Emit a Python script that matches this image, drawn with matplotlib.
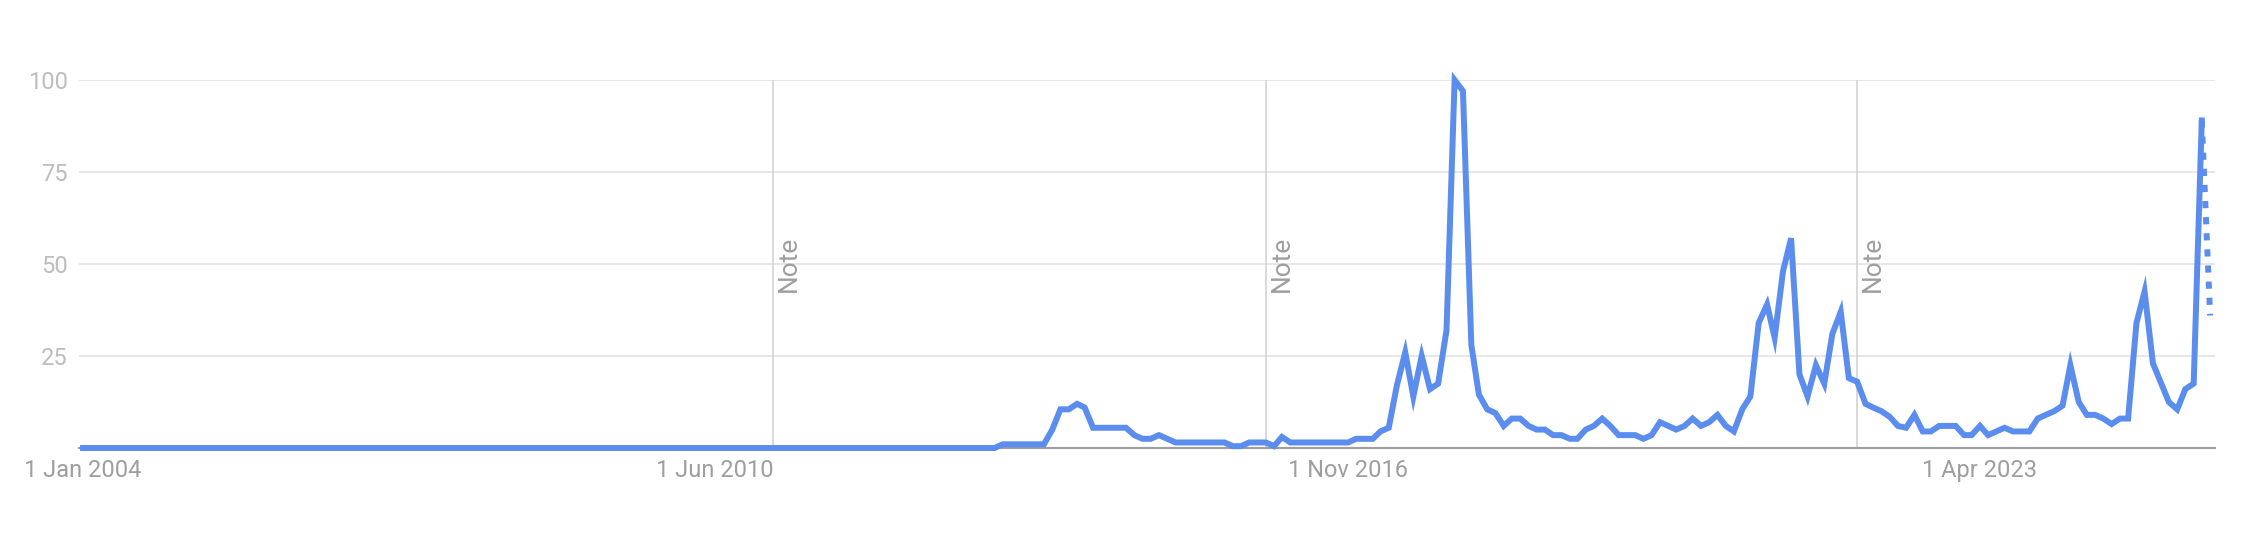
import matplotlib.pyplot as plt
import pandas as pd

plt.rcParams['font.family'] = ['Roboto', 'DejaVu Sans']

# monthly interest, Jan 2004 .. Aug 2025 (last month is partial -> dotted)
months = pd.date_range('2004-01-01', '2025-08-01', freq='MS')
interest = [
    0, 0, 0, 0, 0, 0, 0, 0, 0, 0, 0, 0,            # 2004
    0, 0, 0, 0, 0, 0, 0, 0, 0, 0, 0, 0,            # 2005
    0, 0, 0, 0, 0, 0, 0, 0, 0, 0, 0, 0,            # 2006
    0, 0, 0, 0, 0, 0, 0, 0, 0, 0, 0, 0,            # 2007
    0, 0, 0, 0, 0, 0, 0, 0, 0, 0, 0, 0,            # 2008
    0, 0, 0, 0, 0, 0, 0, 0, 0, 0, 0, 0,            # 2009
    0, 0, 0, 0, 0, 0, 0, 0, 0, 0, 0, 0,            # 2010
    0, 0, 0, 0, 0, 0, 0, 0, 0, 0, 0, 0,            # 2011
    0, 0, 0, 0, 0, 0, 0, 0, 0, 0, 0, 0,            # 2012
    0, 0, 0, 0, 1, 1, 1, 1, 1, 1, 5, 10.5,         # 2013
    10.5, 12, 11, 5.5, 5.5, 5.5, 5.5, 5.5, 3.5, 2.5, 2.5, 3.5,   # 2014
    2.5, 1.5, 1.5, 1.5, 1.5, 1.5, 1.5, 1.5, 0.5, 0.5, 1.5, 1.5,  # 2015
    1.5, 0.5, 3, 1.5, 1.5, 1.5, 1.5, 1.5, 1.5, 1.5, 1.5, 2.5,    # 2016
    2.5, 2.5, 4.5, 5.5, 17, 26, 14, 25, 16, 17.5, 32, 100,       # 2017
    97, 28, 14.5, 10.5, 9.5, 6, 8, 8, 6, 5, 5, 3.5,              # 2018
    3.5, 2.5, 2.5, 5, 6, 8, 6, 3.5, 3.5, 3.5, 2.5, 3.5,          # 2019
    7, 6, 5, 6, 8, 6, 7, 9, 6, 4.5, 10.5, 14,                    # 2020
    34, 39, 30, 48, 57, 20, 14, 22.5, 17.5, 31, 37, 19,          # 2021
    18, 12, 11, 10, 8.5, 6, 5.5, 9, 4.5, 4.5, 6, 6,              # 2022
    6, 3.5, 3.5, 6, 3.5, 4.5, 5.5, 4.5, 4.5, 4.5, 8, 9,          # 2023
    10, 11.5, 22.5, 12.5, 9, 9, 8, 6.5, 8, 8, 34, 42.5,          # 2024
    23, 17.5, 12.5, 10.5, 16, 17.5, 89, 36,                      # 2025
]

tick_dates = ['2004-01-01', '2010-06-01', '2016-11-01', '2023-04-01']
tick_labels = ['1 Jan 2004', '1 Jun 2010', '1 Nov 2016', '1 Apr 2023']
note_dates = ['2011-01-01', '2016-01-01', '2022-01-01']
y_ticks = [25, 50, 75, 100]

blue = '#5a8dee'

fig = plt.figure(figsize=(22.68, 5.49), dpi=100)
ax = fig.add_axes([79 / 2268, 101 / 549, 2136 / 2268, 368 / 549])

# solid part and the dotted partial month
ax.plot(months[:-1], interest[:-1], color=blue, lw=4.3,
        solid_joinstyle='miter', clip_on=False, zorder=3)
ax.plot(months[-2:], interest[-2:], color=blue, lw=4.3,
        linestyle=(0, (1.2, 1.5)), dash_capstyle='butt', clip_on=False, zorder=3)

for d in note_dates:
    d = pd.Timestamp(d)
    ax.axvline(d, color='#cfcfcf', lw=1.1, zorder=1)
    ax.text(d + pd.Timedelta(days=14), 50, 'Note', rotation=90,
            ha='left', va='center', fontsize=19, color='#9e9e9e')

ax.set_ylim(0, 100)
ax.set_xlim(pd.Timestamp('2003-12-17'), pd.Timestamp('2025-08-19'))
ax.set_yticks(y_ticks)
ax.yaxis.grid(True, color='#e0e0e0', lw=1.1, zorder=0)
ax.set_axisbelow(True)
ax.set_xticks(pd.to_datetime(tick_dates))
ax.set_xticklabels(tick_labels)

ax.tick_params(axis='both', length=0, labelsize=17)
ax.tick_params(axis='y', colors='#bdbdbd', pad=8)
ax.tick_params(axis='x', colors='#9e9e9e', pad=8)

for s in ['top', 'right', 'left']:
    ax.spines[s].set_visible(False)
ax.spines['bottom'].set_color('#9e9e9e')
ax.spines['bottom'].set_linewidth(1.5)

fig.savefig('out.png', dpi=100)
